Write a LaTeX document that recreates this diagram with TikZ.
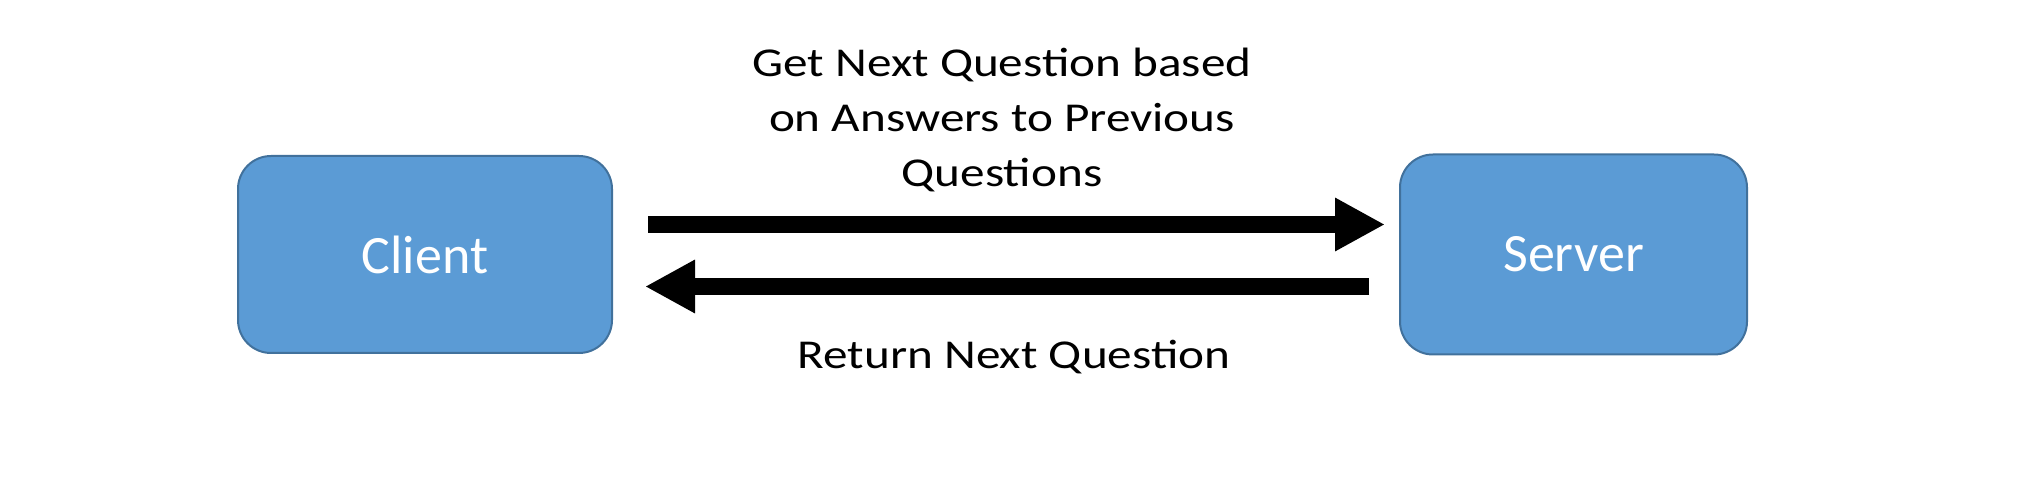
\documentclass[tikz,border=0pt]{standalone}
\usepackage{fontspec}
\setmainfont{Carlito}
\newfontfamily\widefont[FakeStretch=1.2]{Carlito}
\usepackage{xcolor}
\usetikzlibrary{positioning,arrows.meta}

\definecolor{boxfill}{HTML}{5B9BD5}
\definecolor{boxline}{HTML}{41719C}

\begin{document}
\begin{tikzpicture}[
  x=0.5pt, y=-0.5pt,
  node distance=393pt,
  party/.style={draw=boxline, line width=1pt, fill=boxfill, rounded corners=16.5pt,
    minimum width=187pt, minimum height=98.5pt, text=white, font=\fontsize{27}{32}\selectfont},
  lbl/.style={align=center, inner sep=0pt, font=\widefont\fontsize{20.5}{27.5}\selectfont},
  arr/.style={-{Triangle[length=25pt, width=25pt]}, line width=8.5pt}
]
\useasboundingbox (0,0) rectangle (2026,497);
\node[party] (client) at (425,254.5) {Client};
\node[party, right=of client, minimum width=173.5pt, minimum height=100pt] (server) {Server};
\draw[arr, shorten <=17.5pt, shorten >=7pt]
  ([yshift=15pt]client.east) -- ([yshift=15pt]client.east -| server.west);
\draw[arr, shorten <=15pt, shorten >=16pt]
  ([yshift=-16pt]server.west) -- ([yshift=-16pt]server.west -| client.east);
\node[lbl, anchor=base] (request) at (1002,187) {Get Next Question based\\on Answers to Previous\\Questions};
\node[lbl, anchor=base] (reply) at (1014,369) {Return Next Question};
\end{tikzpicture}
\end{document}
